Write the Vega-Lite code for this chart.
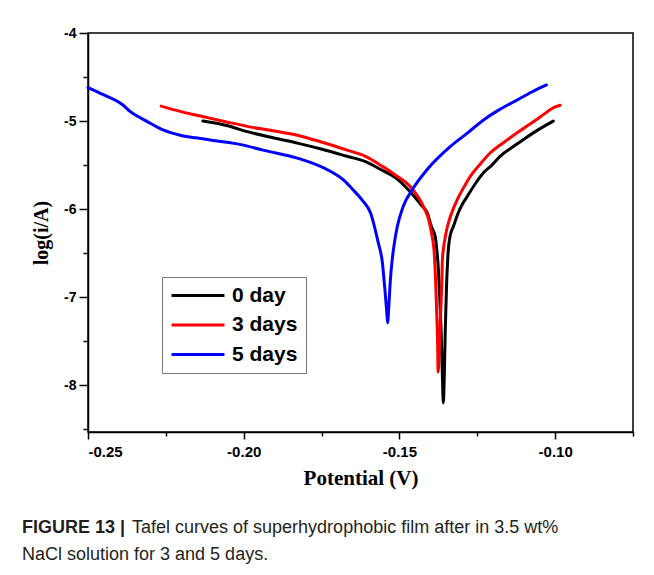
{
  "$schema": "https://vega.github.io/schema/vega-lite/v6.json",
  "width": 545,
  "height": 399,
  "autosize": {"type": "none"},
  "padding": {"left": 88, "top": 33, "right": 21, "bottom": 143},
  "background": "white",
  "title": {
    "text": "FIGURE 13 |",
    "subtitle": ["\u200b\u00a0\u00a0\u00a0\u00a0\u00a0\u00a0\u00a0\u00a0\u00a0\u00a0\u00a0\u00a0\u00a0\u00a0\u00a0\u00a0\u00a0\u00a0\u00a0\u00a0\u00a0\u00a0Tafel curves of superhydrophobic film after in 3.5 wt%", "NaCl solution for 3 and 5 days."],
    "orient": "bottom",
    "anchor": "start",
    "frame": "group",
    "dx": -66,
    "offset": 31,
    "font": "Liberation Sans",
    "fontSize": 18,
    "fontWeight": "bold",
    "color": "#231f20",
    "subtitleFont": "Liberation Sans",
    "subtitleFontSize": 18,
    "subtitleFontWeight": "normal",
    "subtitleColor": "#231f20",
    "subtitlePadding": -18,
    "subtitleLineHeight": 27
  },
  "data": {
    "values": [
      {"s": "0 day", "o": 1, "v": -0.2131, "l": -5.00},
      {"s": "0 day", "o": 2, "v": -0.2055, "l": -5.05},
      {"s": "0 day", "o": 3, "v": -0.1989, "l": -5.12},
      {"s": "0 day", "o": 4, "v": -0.1906, "l": -5.19},
      {"s": "0 day", "o": 5, "v": -0.1828, "l": -5.25},
      {"s": "0 day", "o": 6, "v": -0.1748, "l": -5.32},
      {"s": "0 day", "o": 7, "v": -0.1668, "l": -5.40},
      {"s": "0 day", "o": 8, "v": -0.1609, "l": -5.46},
      {"s": "0 day", "o": 9, "v": -0.1560, "l": -5.55},
      {"s": "0 day", "o": 10, "v": -0.1510, "l": -5.65},
      {"s": "0 day", "o": 11, "v": -0.1466, "l": -5.80},
      {"s": "0 day", "o": 12, "v": -0.1431, "l": -5.95},
      {"s": "0 day", "o": 13, "v": -0.1411, "l": -6.04},
      {"s": "0 day", "o": 14, "v": -0.1397, "l": -6.20},
      {"s": "0 day", "o": 15, "v": -0.1385, "l": -6.31},
      {"s": "0 day", "o": 16, "v": -0.1380, "l": -6.46},
      {"s": "0 day", "o": 17, "v": -0.1375, "l": -6.68},
      {"s": "0 day", "o": 18, "v": -0.1372, "l": -6.90},
      {"s": "0 day", "o": 19, "v": -0.1366, "l": -7.40},
      {"s": "0 day", "o": 20, "v": -0.1362, "l": -7.90},
      {"s": "0 day", "o": 21, "v": -0.1359, "l": -8.20},
      {"s": "0 day", "o": 22, "v": -0.1356, "l": -7.90},
      {"s": "0 day", "o": 23, "v": -0.1353, "l": -7.40},
      {"s": "0 day", "o": 24, "v": -0.1349, "l": -6.90},
      {"s": "0 day", "o": 25, "v": -0.1343, "l": -6.46},
      {"s": "0 day", "o": 26, "v": -0.1337, "l": -6.30},
      {"s": "0 day", "o": 27, "v": -0.1327, "l": -6.20},
      {"s": "0 day", "o": 28, "v": -0.1312, "l": -6.05},
      {"s": "0 day", "o": 29, "v": -0.1299, "l": -5.95},
      {"s": "0 day", "o": 30, "v": -0.1283, "l": -5.86},
      {"s": "0 day", "o": 31, "v": -0.1258, "l": -5.72},
      {"s": "0 day", "o": 32, "v": -0.1231, "l": -5.59},
      {"s": "0 day", "o": 33, "v": -0.1203, "l": -5.50},
      {"s": "0 day", "o": 34, "v": -0.1177, "l": -5.40},
      {"s": "0 day", "o": 35, "v": -0.1139, "l": -5.30},
      {"s": "0 day", "o": 36, "v": -0.1102, "l": -5.21},
      {"s": "0 day", "o": 37, "v": -0.1055, "l": -5.10},
      {"s": "0 day", "o": 38, "v": -0.1006, "l": -5.00},
      {"s": "3 days", "o": 1, "v": -0.2265, "l": -4.83},
      {"s": "3 days", "o": 2, "v": -0.2204, "l": -4.89},
      {"s": "3 days", "o": 3, "v": -0.2118, "l": -4.96},
      {"s": "3 days", "o": 4, "v": -0.2055, "l": -5.01},
      {"s": "3 days", "o": 5, "v": -0.1989, "l": -5.06},
      {"s": "3 days", "o": 6, "v": -0.1906, "l": -5.11},
      {"s": "3 days", "o": 7, "v": -0.1828, "l": -5.16},
      {"s": "3 days", "o": 8, "v": -0.1748, "l": -5.24},
      {"s": "3 days", "o": 9, "v": -0.1668, "l": -5.33},
      {"s": "3 days", "o": 10, "v": -0.1609, "l": -5.40},
      {"s": "3 days", "o": 11, "v": -0.1552, "l": -5.52},
      {"s": "3 days", "o": 12, "v": -0.1510, "l": -5.62},
      {"s": "3 days", "o": 13, "v": -0.1466, "l": -5.74},
      {"s": "3 days", "o": 14, "v": -0.1423, "l": -5.97},
      {"s": "3 days", "o": 15, "v": -0.1406, "l": -6.12},
      {"s": "3 days", "o": 16, "v": -0.1395, "l": -6.31},
      {"s": "3 days", "o": 17, "v": -0.1389, "l": -6.46},
      {"s": "3 days", "o": 18, "v": -0.1384, "l": -6.80},
      {"s": "3 days", "o": 19, "v": -0.1380, "l": -7.20},
      {"s": "3 days", "o": 20, "v": -0.1377, "l": -7.60},
      {"s": "3 days", "o": 21, "v": -0.1376, "l": -7.85},
      {"s": "3 days", "o": 22, "v": -0.1372, "l": -7.60},
      {"s": "3 days", "o": 23, "v": -0.1368, "l": -7.20},
      {"s": "3 days", "o": 24, "v": -0.1364, "l": -6.85},
      {"s": "3 days", "o": 25, "v": -0.1362, "l": -6.57},
      {"s": "3 days", "o": 26, "v": -0.1359, "l": -6.46},
      {"s": "3 days", "o": 27, "v": -0.1352, "l": -6.30},
      {"s": "3 days", "o": 28, "v": -0.1346, "l": -6.20},
      {"s": "3 days", "o": 29, "v": -0.1332, "l": -6.04},
      {"s": "3 days", "o": 30, "v": -0.1314, "l": -5.89},
      {"s": "3 days", "o": 31, "v": -0.1293, "l": -5.75},
      {"s": "3 days", "o": 32, "v": -0.1273, "l": -5.63},
      {"s": "3 days", "o": 33, "v": -0.1241, "l": -5.49},
      {"s": "3 days", "o": 34, "v": -0.1208, "l": -5.36},
      {"s": "3 days", "o": 35, "v": -0.1164, "l": -5.24},
      {"s": "3 days", "o": 36, "v": -0.1121, "l": -5.13},
      {"s": "3 days", "o": 37, "v": -0.1083, "l": -5.04},
      {"s": "3 days", "o": 38, "v": -0.1047, "l": -4.95},
      {"s": "3 days", "o": 39, "v": -0.1000, "l": -4.84},
      {"s": "3 days", "o": 40, "v": -0.0984, "l": -4.82},
      {"s": "5 days", "o": 1, "v": -0.2500, "l": -4.62},
      {"s": "5 days", "o": 2, "v": -0.2451, "l": -4.70},
      {"s": "5 days", "o": 3, "v": -0.2387, "l": -4.82},
      {"s": "5 days", "o": 4, "v": -0.2365, "l": -4.89},
      {"s": "5 days", "o": 5, "v": -0.2312, "l": -5.00},
      {"s": "5 days", "o": 6, "v": -0.2259, "l": -5.10},
      {"s": "5 days", "o": 7, "v": -0.2204, "l": -5.16},
      {"s": "5 days", "o": 8, "v": -0.2154, "l": -5.19},
      {"s": "5 days", "o": 9, "v": -0.2098, "l": -5.22},
      {"s": "5 days", "o": 10, "v": -0.2005, "l": -5.27},
      {"s": "5 days", "o": 11, "v": -0.1938, "l": -5.33},
      {"s": "5 days", "o": 12, "v": -0.1828, "l": -5.42},
      {"s": "5 days", "o": 13, "v": -0.1722, "l": -5.57},
      {"s": "5 days", "o": 14, "v": -0.1679, "l": -5.67},
      {"s": "5 days", "o": 15, "v": -0.1649, "l": -5.78},
      {"s": "5 days", "o": 16, "v": -0.1619, "l": -5.90},
      {"s": "5 days", "o": 17, "v": -0.1593, "l": -6.04},
      {"s": "5 days", "o": 18, "v": -0.1568, "l": -6.38},
      {"s": "5 days", "o": 19, "v": -0.1555, "l": -6.60},
      {"s": "5 days", "o": 20, "v": -0.1547, "l": -6.90},
      {"s": "5 days", "o": 21, "v": -0.1541, "l": -7.15},
      {"s": "5 days", "o": 22, "v": -0.1538, "l": -7.29},
      {"s": "5 days", "o": 23, "v": -0.1534, "l": -7.10},
      {"s": "5 days", "o": 24, "v": -0.1529, "l": -6.80},
      {"s": "5 days", "o": 25, "v": -0.1523, "l": -6.57},
      {"s": "5 days", "o": 26, "v": -0.1516, "l": -6.38},
      {"s": "5 days", "o": 27, "v": -0.1507, "l": -6.20},
      {"s": "5 days", "o": 28, "v": -0.1488, "l": -5.97},
      {"s": "5 days", "o": 29, "v": -0.1459, "l": -5.78},
      {"s": "5 days", "o": 30, "v": -0.1411, "l": -5.55},
      {"s": "5 days", "o": 31, "v": -0.1337, "l": -5.29},
      {"s": "5 days", "o": 32, "v": -0.1283, "l": -5.14},
      {"s": "5 days", "o": 33, "v": -0.1231, "l": -4.99},
      {"s": "5 days", "o": 34, "v": -0.1179, "l": -4.87},
      {"s": "5 days", "o": 35, "v": -0.1121, "l": -4.76},
      {"s": "5 days", "o": 36, "v": -0.1075, "l": -4.67},
      {"s": "5 days", "o": 37, "v": -0.1028, "l": -4.59}
    ]
  },
  "mark": {"type": "line", "strokeWidth": 3, "strokeCap": "round", "strokeJoin": "round", "interpolate": "monotone"},
  "encoding": {
    "x": {
      "field": "v",
      "type": "quantitative",
      "scale": {"domain": [-0.25, -0.075], "nice": false, "zero": false},
      "axis": {
        "title": "Potential (V)",
        "values": [-0.25, -0.225, -0.2, -0.175, -0.15, -0.125, -0.1, -0.075],
        "labelExpr": "abs(datum.value*20 - round(datum.value*20)) < 0.001 && datum.value < -0.09 ? replace(format(datum.value, '.2f'), '\u2212', '-') : ''",
        "tickSize": {"condition": {"test": "abs(datum.value*20 - round(datum.value*20)) < 0.001", "value": 7}, "value": 4},
        "labelPadding": 5,
        "labelFontSize": 15,
        "titleFontSize": 21,
        "titlePadding": 8
      }
    },
    "y": {
      "field": "l",
      "type": "quantitative",
      "scale": {"domain": [-8.53, -4], "nice": false, "zero": false},
      "axis": {
        "title": "log(i/A)",
        "values": [-8.5, -8, -7.5, -7, -6.5, -6, -5.5, -5, -4.5, -4],
        "labelExpr": "datum.value % 1 == 0 ? replace(format(datum.value, 'd'), '\u2212', '-') : ''",
        "tickSize": {"condition": {"test": "datum.value % 1 == 0", "value": 9}, "value": 5},
        "labelPadding": 3,
        "labelFontSize": 14,
        "titleFontSize": 20,
        "titlePadding": 12
      }
    },
    "color": {
      "field": "s",
      "type": "nominal",
      "scale": {"domain": ["0 day", "3 days", "5 days"], "range": ["#000000", "#ff0000", "#0000ff"]},
      "legend": {
        "orient": "none",
        "legendX": 74,
        "legendY": 244,
        "title": null,
        "symbolType": "stroke",
        "symbolSize": 2800,
        "symbolStrokeWidth": 3,
        "clipHeight": 21,
        "rowPadding": 7.5,
        "labelOffset": 6,
        "labelFont": "Liberation Sans",
        "labelFontSize": 21,
        "labelFontWeight": "bold",
        "labelColor": "#000000",
        "padding": 8,
        "strokeColor": "#777777",
        "fillColor": "#ffffff"
      }
    },
    "order": {"field": "o", "type": "quantitative"}
  },
  "config": {
    "view": {"stroke": "#000000", "strokeWidth": 1.5},
    "axis": {
      "grid": false,
      "domainColor": "#000000",
      "domainWidth": 1.5,
      "tickColor": "#000000",
      "tickWidth": 1.5,
      "labelFont": "Liberation Sans",
      "labelFontWeight": "bold",
      "labelColor": "#000000",
      "titleFont": "Liberation Serif",
      "titleFontWeight": "bold",
      "titleColor": "#000000"
    }
  }
}
